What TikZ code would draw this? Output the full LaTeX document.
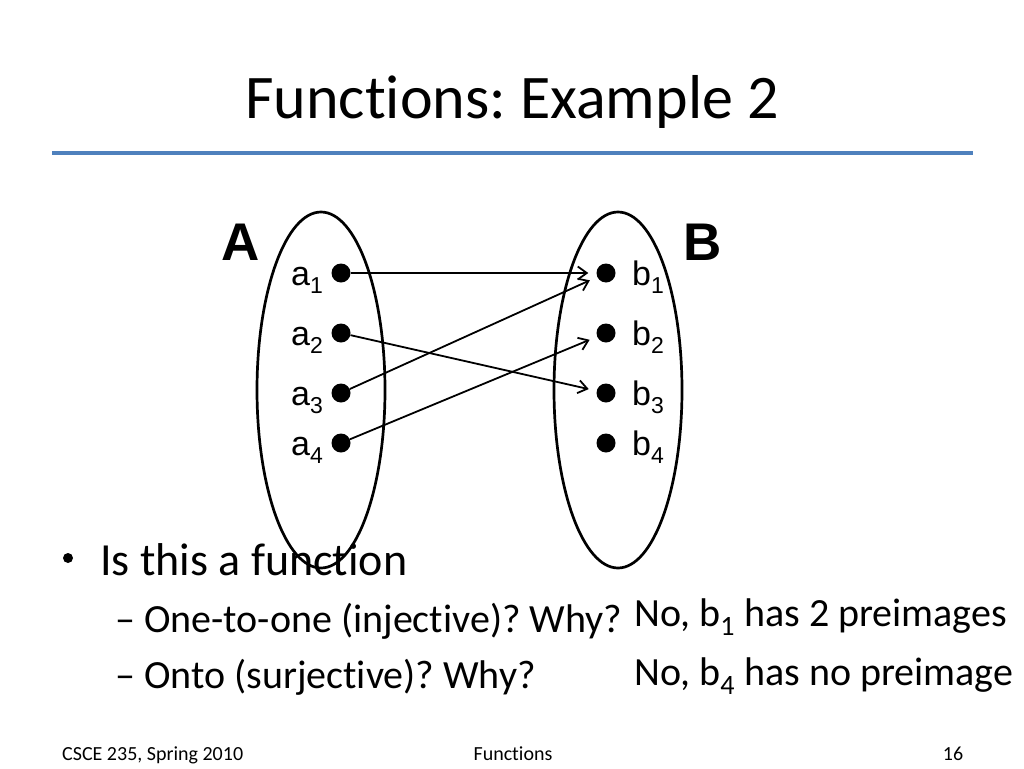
\documentclass[tikz,border=0pt]{standalone}
\usepackage{fontspec}
\setmainfont{Carlito}[Ligatures=NoCommon]
\newfontfamily\arial{Liberation Sans}
\usetikzlibrary{arrows.meta}
\definecolor{titleblue}{RGB}{79,129,189}
\frenchspacing
\begin{document}
\begin{tikzpicture}[x=1pt,y=-1pt,
  elem/.style={circle,fill=black,inner sep=0pt,minimum size=19pt},
  lab/.style={font=\arial\fontsize{34}{38}\selectfont,inner sep=0pt},
  setname/.style={font=\arial\bfseries\fontsize{53}{56}\selectfont,inner sep=0pt},
  map/.style={-{Straight Barb[length=9pt,width=13pt,line width=1.8pt]},line width=1.8pt,shorten >=8pt},
  body/.style={anchor=base west,inner sep=0pt,font=\fontsize{46}{50}\selectfont},
  sub/.style={anchor=base west,inner sep=0pt,font=\fontsize{40}{44}\selectfont},
  foot/.style={anchor=base,inner sep=0pt,font=\fontsize{20}{22}\selectfont}]
\useasboundingbox (0,0) rectangle (1024,768);
\node[anchor=base,inner sep=0pt,font=\fontsize{62}{66}\selectfont] (title) at (512,118) {Functions: Example 2};
\coordinate (ls) at (52,153);
\coordinate (le) at (973,153);
\draw[titleblue,line width=3.5pt] (ls) -- (le);
% sets
\draw[line width=2.7pt] (321,390) ellipse (64 and 178);
\draw[line width=2.7pt] (618,390) ellipse (64 and 178);
\node[setname,anchor=base] (A) at (241,260) {A};
\node[setname,anchor=base] (B) at (703,260) {B};
% elements
\foreach \i/\y in {1/273,2/333,3/393,4/443}{
  \node[elem] (a\i) at (341,\y) {};
  \node[elem] (b\i) at (606,\y) {};
  \node[lab,anchor=base east] (la\i) at (323,\y+12) {a\raisebox{-8pt}{\fontsize{23}{24}\selectfont\i}};
  \node[lab,anchor=base west] (lb\i) at (632,\y+12) {b\raisebox{-8pt}{\fontsize{23}{24}\selectfont\i}};
}
\draw[map] (a1) -- (b1);
\draw[map] (a2) -- (b3);
\draw[map] (a3) -- (b1);
\draw[map] (a4) -- (b2);
% bullets
\node[circle,fill=black,inner sep=0pt,minimum size=10pt] (bul) at (68,558) {};
\node[body] (q) at (100,575) {Is this a function};
\node[sub] (q1) at (115,632) {– One-to-one (injective)? Why?};
\node[sub] (ans1) at (634,626) {No, b\textsubscript{1} has 2 preimages};
\node[sub] (q2) at (115,688) {– Onto (surjective)? Why?};
\node[sub] (ans2) at (634,685) {No, b\textsubscript{4} has no preimage};
% footer
\node[foot,anchor=base west] (f1) at (62,760) {CSCE 235, Spring 2010};
\node[foot] (f2) at (513,760) {Functions};
\node[foot] (f3) at (953,760) {16};
\end{tikzpicture}
\end{document}
